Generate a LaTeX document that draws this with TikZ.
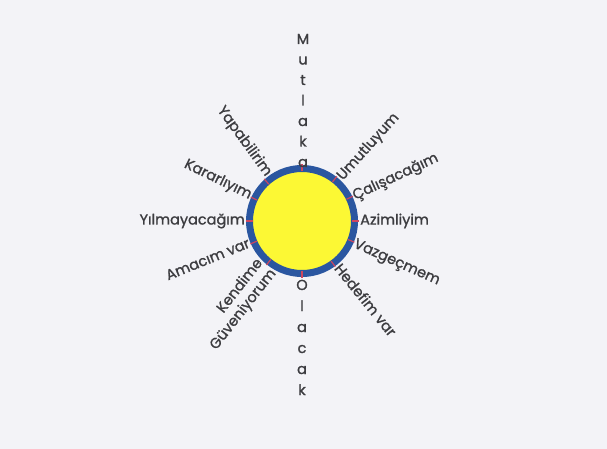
\documentclass[tikz,border=0pt]{standalone}
\usepackage{fontspec}
\setmainfont{Poppins}[FakeBold=1.2]
\usetikzlibrary{calc}
\definecolor{paper}{RGB}{243,243,247}
\definecolor{sunyellow}{RGB}{252,248,52}
\definecolor{ringblue}{RGB}{42,86,160}
\definecolor{tickred}{RGB}{205,70,95}
\definecolor{ink}{RGB}{60,60,64}
\begin{document}
\begin{tikzpicture}[x=1pt,y=-1pt,
  lbl/.style={font=\fontsize{14.5}{16}\selectfont, text=ink, inner sep=0pt},
  letter/.style={font=\fontsize{14.5}{16}\selectfont, text=ink, inner sep=0pt, anchor=base},
  tick/.style={draw=tickred, line width=1.2pt}]
\fill[paper] (0,0) rectangle (607,449);
\useasboundingbox (0,0) rectangle (607,449);
\coordinate (c) at (302,221);
\node[circle, fill=sunyellow, draw=ringblue, line width=7pt, minimum size=105pt, inner sep=0pt] (sun) at (c) {};
\foreach \a in {90,48,25,0,-24,-51,-90,-126,-158,180,154,128}{
  \draw[tick] ($(c)+(\a:-49.5)$) -- ($(c)+(\a:-56.5)$);
}
% right side labels (y axis is flipped, so angles are negated)
\node[lbl, anchor=west, rotate=48] (umut) at ($(c)+(-48:57)$) {Umutluyum};
\node[lbl, anchor=west, rotate=25] (cali) at ($(c)+(-25:57)$) {Çalışacağım};
\node[lbl, anchor=west] (azim) at ($(c)+(0:58)$) {Azimliyim};
\node[lbl, anchor=west, rotate=-24] (vazg) at ($(c)+(24:57)$) {Vazgeçmem};
\node[lbl, anchor=west, rotate=-51] (hede) at ($(c)+(51:57)$) {Hedefim var};
% left side labels
\node[lbl, anchor=east, rotate=52, align=right] (kend) at ($(c)+(128:57)$) {Kendime\\[1pt]Güveniyorum};
\node[lbl, anchor=east, rotate=22] (amac) at ($(c)+(158:57)$) {Amacım var};
\node[lbl, anchor=east] (yilm) at ($(c)+(180:57)$) {Yılmayacağım};
\node[lbl, anchor=east, rotate=-26] (kara) at ($(c)+(-154:57)$) {Kararlıyım};
\node[lbl, anchor=east, rotate=-54] (yapa) at ($(c)+(-126:57)$) {Yapabilirim};
% vertical words
\foreach \ch/\yb [count=\i] in {M/44,u/64.5,t/85,l/105.5,a/126,k/146.5,a/167}{
  \node[letter] (m\i) at (303,\yb) {\ch};
}
\foreach \ch/\yb [count=\i] in {O/290,l/311,a/332,c/353,a/374,k/395}{
  \node[letter] (o\i) at (302,\yb) {\ch};
}
\end{tikzpicture}
\end{document}
